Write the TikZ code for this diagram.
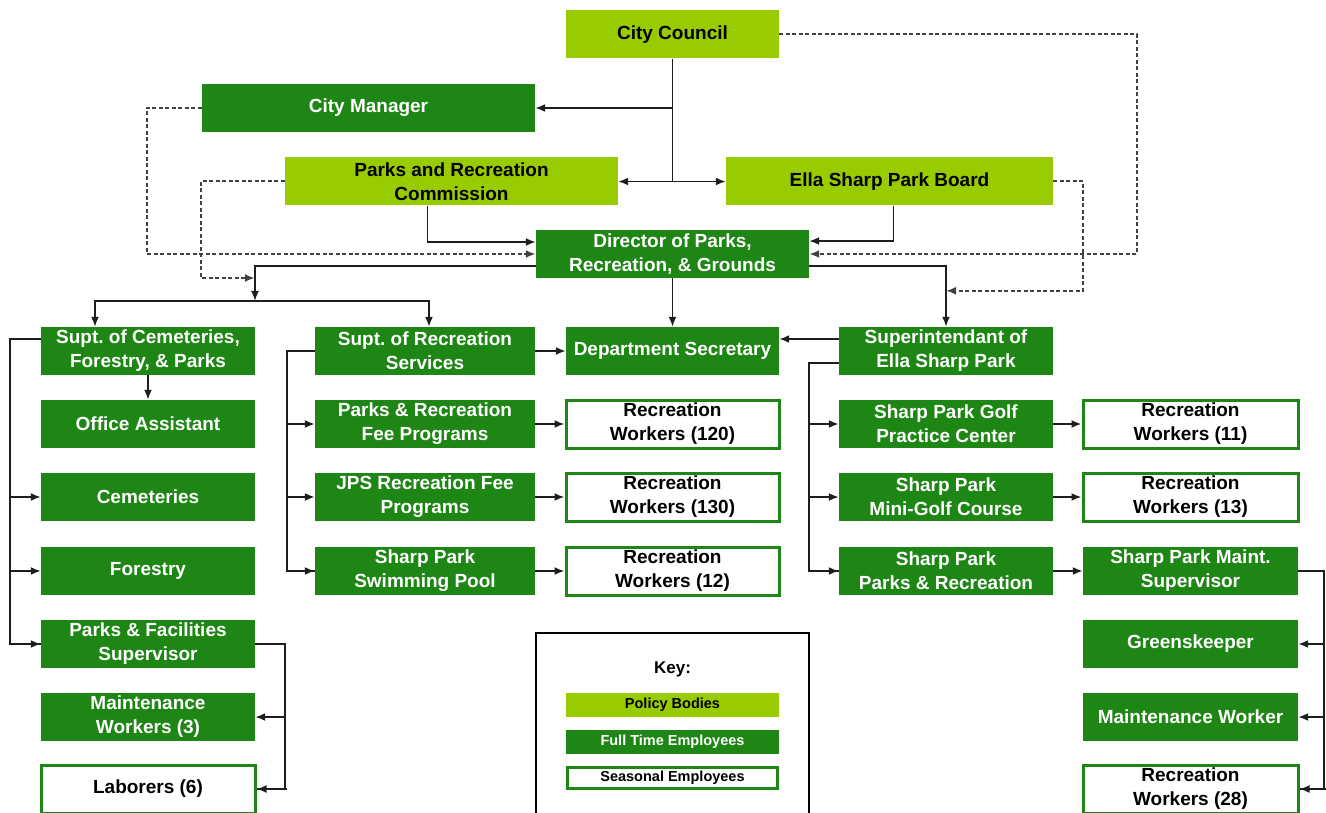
\documentclass[tikz,border=0pt]{standalone}
\usepackage{fontspec}
\setmainfont{Liberation Sans}
\usetikzlibrary{arrows.meta}
\definecolor{dkgreen}{RGB}{30,134,20}
\definecolor{ltgreen}{RGB}{153,204,0}
\definecolor{linegray}{RGB}{30,30,30}
\frenchspacing

\begin{document}
\begin{tikzpicture}[x=1pt,y=-1pt]
      \tikzstyle{box}=[minimum width=214pt, minimum height=48pt, inner sep=0pt, align=center, font=\bfseries\fontsize{19}{24}\selectfont]
      \tikzstyle{policy}=[box, fill=ltgreen, text=black]
      \tikzstyle{staff}=[box, fill=dkgreen, text=white]
      \tikzstyle{seasonal}=[box, draw=dkgreen, line width=3pt, fill=white, text=black]
      \tikzstyle{keyfont}=[font=\bfseries\fontsize{14.5}{16}\selectfont, minimum height=24pt, inner sep=0pt]
      \tikzstyle{line}=[draw=linegray, line width=1.8pt]
      \tikzstyle{link}=[line, -{Latex[length=10pt,width=8pt]}]
      \tikzstyle{dotlink}=[draw=linegray!85, line width=2pt, dash pattern=on 4pt off 2.5pt, -{Latex[length=10pt,width=8pt]}]

      \useasboundingbox (0,0) rectangle (1326,813);

      \node[policy, minimum width=213pt] (CC) at (672.5,34.5) {City Council};
      \node[staff, minimum width=333pt] (CM) at (368.5,108) {City Manager};
      \node[policy, minimum width=333pt] (Comm) at (451.5,181.5) {Parks and Recreation\\Commission};
      \node[policy, minimum width=327pt] (Board) at (889.5,181.5) {Ella Sharp Park Board};
      \node[staff, minimum width=273pt] (Dir) at (672.5,254) {Director of Parks,\\Recreation, \& Grounds};

      \node[staff] (SCem) at (148,351) {Supt. of Cemeteries,\\Forestry, \& Parks};
      \node[staff] (OA) at (148,424) {Office Assistant};
      \node[staff] (Cem) at (148,497) {Cemeteries};
      \node[staff] (For) at (148,571) {Forestry};
      \node[staff] (PFS) at (148,644) {Parks \& Facilities\\Supervisor};
      \node[staff] (MW) at (148,717) {Maintenance\\Workers (3)};
      \node[seasonal] (Lab) at (148,789) {Laborers (6)};

      \node[staff, minimum width=220pt] (SRec) at (425,351) {Supt. of Recreation\\Services};
      \node[staff, minimum width=220pt] (PRF) at (425,424) {Parks \& Recreation\\Fee Programs};
      \node[staff, minimum width=220pt] (JPS) at (425,497) {JPS Recreation Fee\\Programs};
      \node[staff, minimum width=220pt] (Pool) at (425,571) {Sharp Park\\Swimming Pool};

      \node[staff, minimum width=213pt] (Sec) at (672.5,351) {Department Secretary};
      \node[seasonal, minimum width=213pt] (RWa) at (672.5,424) {Recreation\\Workers (120)};
      \node[seasonal, minimum width=213pt] (RWb) at (672.5,497) {Recreation\\Workers (130)};
      \node[seasonal, minimum width=213pt] (RWc) at (672.5,571) {Recreation\\Workers (12)};

      \node[staff] (Sup) at (946,351) {Superintendant of\\Ella Sharp Park};
      \node[staff] (Golf) at (946,424) {Sharp Park Golf\\Practice Center};
      \node[staff] (Mini) at (946,497) {Sharp Park\\Mini-Golf Course};
      \node[staff] (SPPR) at (946,571) {Sharp Park\\Parks \& Recreation};

      \node[seasonal, minimum width=215pt] (RWd) at (1190.5,424) {Recreation\\Workers (11)};
      \node[seasonal, minimum width=215pt] (RWe) at (1190.5,497) {Recreation\\Workers (13)};
      \node[staff, minimum width=215pt] (SPMS) at (1190.5,571) {Sharp Park Maint.\\Supervisor};
      \node[staff, minimum width=215pt] (Green) at (1190.5,644) {Greenskeeper};
      \node[staff, minimum width=215pt] (MWk) at (1190.5,717) {Maintenance Worker};
      \node[seasonal, minimum width=215pt] (RWf) at (1190.5,789) {Recreation\\Workers (28)};

      \node[draw=black, line width=2pt, minimum width=273pt, minimum height=200pt, anchor=north] (Key) at (672.5,632) {};
      \node[font=\bfseries\fontsize{17}{19}\selectfont] (KeyT) at (672.5,669) {Key:};
      \node[keyfont, fill=ltgreen, minimum width=213pt] (KPol) at (672.5,705) {Policy Bodies};
      \node[keyfont, fill=dkgreen, text=white, minimum width=213pt] (KFull) at (672.5,742) {Full Time Employees};
      \node[keyfont, draw=dkgreen, line width=3pt, minimum width=210pt, minimum height=21pt] (KSea) at (672.5,778) {Seasonal Employees};

      \coordinate (hub) at (672.5,181.5);
      \coordinate (split) at (255,301);
      \draw[line] (CC) -- (hub);
      \draw[link] (hub) -- (Comm);
      \draw[link] (hub) -- (Board);
      \draw[link] (CC.south |- CM.east) -- (CM.east);
      \draw[dotlink] (CC.east) -- ++(358,0) |- (Dir.east);
      \draw[link] ([xshift=4pt]Board.south) |- ([yshift=13pt]Dir.east);
      \draw[dotlink] (Board.east) -- ++(30,0) |- ([yshift=36pt]Sup.north);
      \draw[link] ([yshift=-12pt]Dir.east) -| (Sup.north);
      \draw[link] (Dir) -- (Sec);
      \draw[link] ([xshift=-24pt]Comm.south) |- ([yshift=12pt]Dir.west);
      \draw[dotlink] (CM.west) -- ++(-55,0) |- (Dir.west);
      \draw[link] ([yshift=-12pt]Dir.west) -| (split);
      \draw[dotlink] (Comm.west) -- ++(-84,0) |- ([yshift=23pt]split);
      \draw[link] (split) -| ([xshift=-53pt]SCem.north);
      \draw[link] (split) -| ([xshift=4pt]SRec.north);

      \draw[link] (SCem) -- (OA);
      \draw[line] ([yshift=12pt]SCem.west) -- ++(-31,0) |- (PFS.west);
      \foreach \n in {Cem,For,PFS} \draw[link] ([xshift=-31pt]\n.west) -- (\n.west);
      \draw[line] (PFS.east) -- ++(30,0) |- (Lab.east);
      \foreach \n in {MW,Lab} \draw[link] ([xshift=30pt]\n.east) -- (\n.east);

      \draw[link] (SRec) -- (Sec);
      \draw[line] (SRec.west) -- ++(-28,0) |- (Pool.west);
      \foreach \n in {PRF,JPS,Pool} \draw[link] ([xshift=-28pt]\n.west) -- (\n.west);
      \draw[link] (PRF) -- (RWa);
      \draw[link] (JPS) -- (RWb);
      \draw[link] (Pool) -- (RWc);

      \draw[link] ([yshift=12pt]Sup.west) -- ([yshift=12pt]Sec.east);
      \draw[line] ([yshift=-12pt]Sup.west) -- ++(-30,0) |- (SPPR.west);
      \foreach \n in {Golf,Mini,SPPR} \draw[link] ([xshift=-30pt]\n.west) -- (\n.west);
      \draw[link] (Golf) -- (RWd);
      \draw[link] (Mini) -- (RWe);
      \draw[link] (SPPR) -- (SPMS);
      \draw[line] (SPMS.east) -- ++(26,0) |- (RWf.east);
      \foreach \n in {Green,MWk,RWf} \draw[link] ([xshift=26pt]\n.east) -- (\n.east);

    \end{tikzpicture}
\end{document}
